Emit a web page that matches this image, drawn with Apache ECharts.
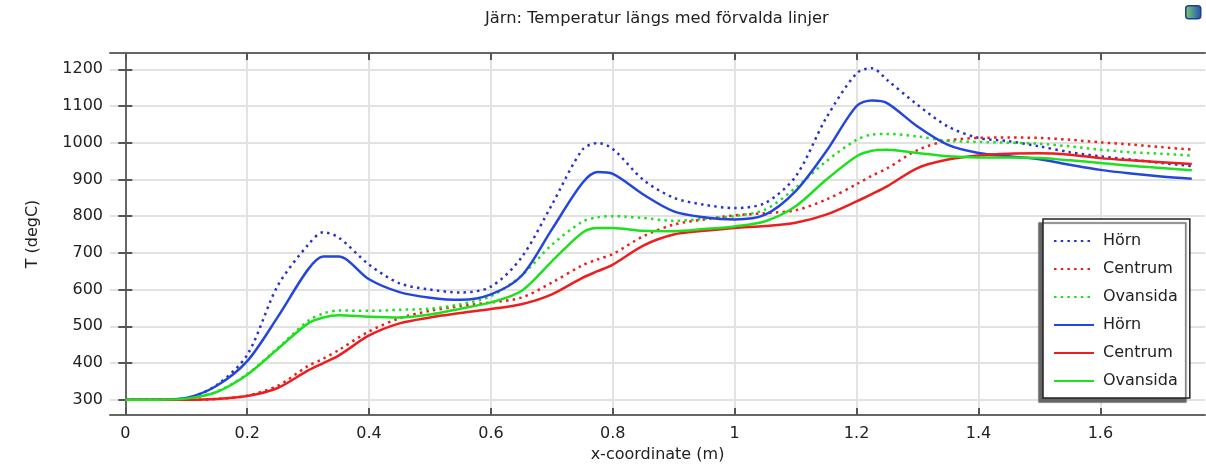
<!DOCTYPE html>
<html>
<head>
<meta charset="utf-8">
<script src="https://cdn.jsdelivr.net/npm/echarts@6/dist/echarts.min.js"></script>
<style>
    html, body { margin: 0; padding: 0; background: #fff; }
    #chart { width: 1206px; height: 468px; }
</style>
</head>
<body>
<div id="chart"></div>
<script>
// Data: 
var xValues = [0, 0.05, 0.1, 0.15, 0.2, 0.25, 0.3, 0.325, 0.35, 0.4, 0.45, 0.5, 0.55, 0.6, 0.65, 0.7, 0.75, 0.775, 0.8, 0.85, 0.9, 0.95, 1.0, 1.05, 1.1, 1.15, 1.2, 1.225, 1.25, 1.3, 1.35, 1.4, 1.45, 1.5, 1.55, 1.6, 1.65, 1.7, 1.75];
var hornDotted = [300, 300, 304, 340, 422, 610, 722, 756, 742, 668, 617, 600, 592, 608, 687, 831, 981, 999, 983, 899, 850, 831, 822, 836, 908, 1067, 1189, 1203, 1171, 1103, 1044, 1013, 1004, 990, 974, 963, 954, 945, 936];
var centrumDotted = [300, 300, 300, 302, 311, 338, 392, 412, 435, 486, 522, 542, 555, 565, 578, 619, 666, 682, 697, 745, 777, 791, 802, 808, 816, 845, 887, 910, 930, 980, 1006, 1013, 1014, 1013, 1008, 1001, 995, 988, 981];
var ovansidaDotted = [300, 300, 303, 322, 370, 440, 515, 535, 543, 542, 545, 548, 560, 582, 638, 722, 785, 797, 800, 795, 787, 793, 800, 818, 877, 949, 1008, 1022, 1024, 1017, 1005, 1002, 1000, 997, 990, 981, 974, 970, 965];
var hornSolid = [300, 300, 305, 338, 405, 525, 655, 690, 690, 628, 593, 578, 572, 587, 637, 764, 890, 920, 915, 859, 813, 797, 791, 804, 868, 976, 1100, 1115, 1108, 1044, 994, 972, 963, 955, 940, 926, 916, 908, 902];
var centrumSolid = [300, 300, 300, 302, 310, 332, 380, 400, 420, 475, 508, 524, 536, 547, 560, 587, 632, 650, 668, 720, 750, 760, 768, 773, 782, 804, 840, 860, 881, 931, 954, 965, 970, 971, 967, 958, 952, 947, 942];
var ovansidaSolid = [300, 300, 303, 321, 368, 438, 508, 524, 530, 526, 524, 532, 548, 565, 596, 677, 755, 768, 768, 760, 759, 765, 772, 786, 827, 899, 963, 978, 981, 972, 963, 960, 960, 958, 952, 945, 937, 931, 925];
var xTicks = [0, 0.2, 0.4, 0.6, 0.8, 1, 1.2, 1.4, 1.6];
var yTicks = [300, 400, 500, 600, 700, 800, 900, 1000, 1100, 1200];

var BLUE = '#2446dc';
var BLUE_DOT = '#2a34c4';
var RED = '#ec1e1e';
var GREEN = '#1fe01f';
var FONT = 'DejaVu Sans';

var pairs = function(values) {
    return xValues.map(function(x, i) { return [x, values[i]]; });
};

var makeSeries = function(name, values, color, dotted) {
    return {
        name: name,
        type: 'line',
        data: pairs(values),
        symbol: 'none',
        smooth: 0.3,
        color: color,
        lineStyle: {
            color: color,
            width: 2.5,
            type: dotted ? [2.5, 4.2] : 'solid'
        },
        emphasis: { disabled: true }
    };
};

var axisLine = { show: true, lineStyle: { color: '#666', width: 2 } };
var tickStyle = { color: '#555', width: 2 };

var chart = echarts.init(document.getElementById('chart'));
chartSettings = {
    backgroundColor: '#fff',
    animation: false,
    title: {
        text: 'Järn: Temperatur längs med förvalda linjer',
        left: 485,
        top: 11,
        padding: 0,
        textStyle: { fontFamily: FONT, fontSize: 16.3, fontWeight: 'normal', color: '#222' }
    },
    grid: { left: 110, top: 53, right: 1, bottom: 52 },
    legend: {
        orient: 'vertical',
        left: 1043,
        top: 219,
        padding: [14, 7, 9, 10],
        itemWidth: 40,
        itemHeight: 14,
        itemGap: 12,
        backgroundColor: '#fff',
        borderColor: '#222',
        borderWidth: 1.5,
        borderRadius: 0,
        shadowColor: '#666',
        shadowBlur: 1,
        shadowOffsetX: -4,
        shadowOffsetY: 4,
        itemStyle: { opacity: 0 },
        textStyle: { fontFamily: FONT, fontSize: 16, color: '#222', padding: [0, 0, 0, 4] },
        data: ['Hörn', 'Centrum', 'Ovansida', 'Hörn ', 'Centrum ', 'Ovansida ']
    },
    xAxis: [{
            type: 'value',
            min: -0.0251,
            max: 1.7717,
            name: 'x-coordinate (m)',
            nameLocation: 'middle',
            nameGap: 32,
            nameTextStyle: { fontFamily: FONT, fontSize: 16, color: '#222' },
            axisLine: axisLine,
            axisTick: { show: true, inside: true, length: 7, customValues: xTicks, lineStyle: tickStyle },
            axisLabel: { customValues: xTicks, margin: 11, fontFamily: FONT, fontSize: 16, color: '#222' },
            splitLine: { show: true, lineStyle: { color: '#e2e2e2', width: 2 } }
        },
        {
            type: 'value',
            position: 'top',
            min: -0.0251,
            max: 1.7717,
            axisLine: axisLine,
            axisTick: { show: true, inside: true, length: 7, customValues: xTicks, lineStyle: tickStyle },
            axisLabel: { show: false },
            splitLine: { show: false }
        }
    ],
    yAxis: [{
            type: 'value',
            min: 258.4,
            max: 1244.3,
            name: 'T (degC)',
            nameLocation: 'middle',
            nameGap: 69,
            nameTextStyle: { fontFamily: FONT, fontSize: 16, color: '#222' },
            axisLine: axisLine,
            axisTick: { show: true, inside: true, length: 7, customValues: yTicks, lineStyle: tickStyle },
            axisLabel: {
                customValues: yTicks,
                margin: 7,
                fontFamily: FONT,
                fontSize: 16,
                color: '#222',
                formatter: function(v) { return String(v); }
            },
            splitLine: { show: true, lineStyle: { color: '#e2e2e2', width: 2 } }
        },
        {
            type: 'value',
            position: 'right',
            min: 258.4,
            max: 1244.3,
            axisLine: axisLine,
            axisTick: { show: true, inside: true, length: 7, customValues: yTicks, lineStyle: tickStyle },
            axisLabel: { show: false },
            splitLine: { show: false }
        }
    ],
    graphic: [{
        type: 'rect',
        left: 1185,
        top: 5,
        shape: { width: 15, height: 13, r: 3 },
        style: {
            fill: new echarts.graphic.LinearGradient(0, 0, 1, 0, [
                { offset: 0, color: '#7fd06a' },
                { offset: 1, color: '#1f4fb8' }
            ]),
            stroke: '#1a3f99',
            lineWidth: 1.5
        }
    }],
    series: [
        makeSeries('Hörn', hornDotted, BLUE_DOT, true),
        makeSeries('Centrum', centrumDotted, RED, true),
        makeSeries('Ovansida', ovansidaDotted, GREEN, true),
        makeSeries('Hörn ', hornSolid, BLUE, false),
        makeSeries('Centrum ', centrumSolid, RED, false),
        makeSeries('Ovansida ', ovansidaSolid, GREEN, false)
    ]
};
chart.setOption(chartSettings);
</script>
</body>
</html>
